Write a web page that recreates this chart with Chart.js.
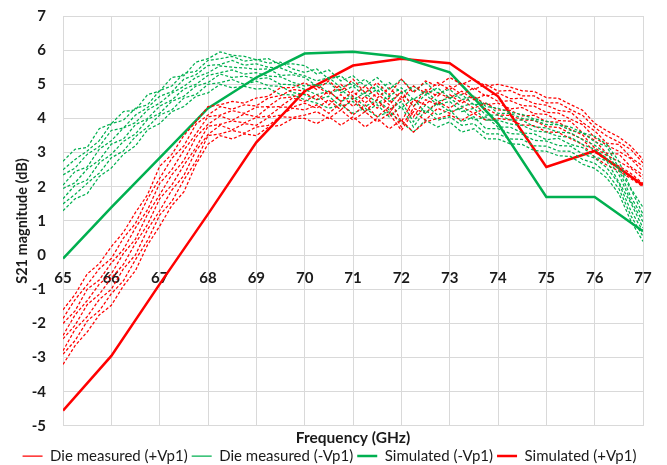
<!DOCTYPE html>
<html>
<head>
<meta charset="utf-8">
<title>S21 magnitude vs frequency</title>
<script src="https://cdn.jsdelivr.net/npm/chart.js@4.4.1/dist/chart.umd.min.js"></script>
<style>
  html, body { margin: 0; padding: 0; background: #fff; }
  #s21-chart { display: block; }
</style>
</head>
<body>
<canvas id="s21-chart" width="667" height="465"></canvas>
<script>
// frequencies (GHz)
const freqSim = [65, 66, 67, 68, 69, 70, 71, 72, 73, 74, 75, 76, 77];
const freqMeas = [65, 65.25, 65.5, 65.75, 66, 66.25, 66.5, 66.75, 67, 67.25, 67.5, 67.75, 68, 68.25, 68.5, 68.75,
  69, 69.25, 69.5, 69.75, 70, 70.25, 70.5, 70.75, 71, 71.25, 71.5, 71.75, 72, 72.25, 72.5, 72.75,
  73, 73.25, 73.5, 73.75, 74, 74.25, 74.5, 74.75, 75, 75.25, 75.5, 75.75, 76, 76.25, 76.5, 76.75, 77];

// simulated S21 (dB)
const simMinusVp1 = [-0.1, 1.4, 2.85, 4.3, 5.2, 5.9, 5.95, 5.8, 5.35, 3.85, 1.7, 1.7, 0.7];
const simPlusVp1 = [-4.55, -2.95, -0.85, 1.2, 3.3, 4.8, 5.55, 5.75, 5.62, 4.65, 2.58, 3.05, 2.05];

// die measured, -Vp1 (dB)
const measMinus1 = [2.75, 3.1, 3.15, 3.7, 3.85, 4.2, 4.25, 4.7, 4.8, 5.2, 5.25, 5.65, 5.75, 5.95, 5.85, 5.82, 5.72, 5.75, 5.58, 5.6, 5.55, 5.3, 5.42, 5.1, 5.25, 4.95, 5.2, 4.85, 5.15, 4.8, 5.05, 4.75, 4.85, 4.55, 4.65, 4.35, 4.3, 4.18, 4.12, 3.98, 3.92, 3.82, 3.75, 3.58, 3.48, 3.25, 2.75, 1.95, 1.4];
const measMinus2 = [2.5, 2.8, 3.05, 3.35, 3.85, 3.95, 4.3, 4.4, 4.82, 4.95, 5.32, 5.38, 5.7, 5.75, 5.82, 5.68, 5.72, 5.62, 5.65, 5.45, 5.35, 5.45, 5.15, 5.25, 4.95, 5.15, 4.8, 5.05, 4.75, 4.95, 4.7, 4.9, 4.6, 4.7, 4.4, 4.45, 4.15, 4.15, 4.0, 3.95, 3.82, 3.82, 3.65, 3.58, 3.32, 3.18, 2.55, 1.92, 1.2];
const measMinus3 = [2.35, 2.55, 2.95, 3.18, 3.65, 3.72, 4.1, 4.32, 4.65, 4.78, 5.15, 5.28, 5.55, 5.58, 5.7, 5.56, 5.6, 5.5, 5.48, 5.34, 5.25, 5.1, 5.2, 4.9, 5.05, 4.75, 4.95, 4.65, 4.9, 4.55, 4.8, 4.5, 4.6, 4.35, 4.45, 4.1, 4.1, 3.96, 3.95, 3.76, 3.72, 3.6, 3.58, 3.38, 3.22, 2.96, 2.5, 1.7, 1.1];
const measMinus4 = [2.05, 2.45, 2.58, 3.1, 3.35, 3.72, 3.88, 4.25, 4.45, 4.74, 4.94, 5.2, 5.34, 5.54, 5.5, 5.48, 5.44, 5.45, 5.26, 5.28, 5.2, 4.95, 5.05, 4.75, 4.95, 4.65, 4.85, 4.5, 4.75, 4.35, 4.7, 4.4, 4.5, 4.2, 4.3, 3.95, 3.95, 3.84, 3.8, 3.64, 3.6, 3.48, 3.45, 3.24, 3.1, 2.84, 2.36, 1.58, 0.98];
const measMinus5 = [1.95, 2.12, 2.52, 2.78, 3.25, 3.4, 3.82, 4.0, 4.36, 4.54, 4.86, 5.0, 5.26, 5.34, 5.42, 5.3, 5.34, 5.24, 5.22, 5.06, 4.95, 5.0, 4.75, 4.85, 4.55, 4.75, 4.45, 4.65, 4.3, 4.6, 4.15, 4.45, 4.2, 4.3, 3.95, 4.05, 3.75, 3.75, 3.58, 3.55, 3.38, 3.42, 3.24, 3.15, 2.88, 2.76, 2.14, 1.52, 0.8];
const measMinus6 = [1.65, 2.05, 2.2, 2.7, 2.95, 3.33, 3.55, 3.97, 4.15, 4.5, 4.65, 4.95, 5.05, 5.3, 5.2, 5.24, 5.16, 5.19, 5.0, 4.99, 4.85, 4.7, 4.8, 4.5, 4.65, 4.35, 4.55, 4.25, 4.5, 3.9, 4.4, 4.1, 4.25, 3.9, 4.05, 3.7, 3.7, 3.56, 3.54, 3.36, 3.34, 3.21, 3.19, 2.96, 2.84, 2.56, 2.1, 1.3, 0.7];
const measMinus7 = [1.5, 1.78, 2.1, 2.4, 2.85, 3.05, 3.47, 3.75, 4.1, 4.25, 4.6, 4.7, 5.0, 5.05, 5.14, 5.0, 5.09, 4.96, 4.94, 4.76, 4.7, 4.55, 4.65, 4.35, 4.5, 4.2, 4.4, 4.05, 4.35, 3.75, 4.25, 3.95, 4.05, 3.8, 3.85, 3.55, 3.55, 3.4, 3.39, 3.2, 3.19, 3.05, 3.04, 2.8, 2.69, 2.4, 1.95, 1.15, 0.55];
const measMinus8 = [1.3, 1.65, 1.8, 2.3, 2.55, 2.95, 3.2, 3.67, 3.85, 4.2, 4.35, 4.65, 4.75, 5.0, 4.9, 4.94, 4.86, 4.89, 4.7, 4.69, 4.55, 4.45, 4.3, 4.4, 4.15, 4.3, 4.05, 4.2, 3.9, 3.6, 3.95, 3.75, 3.9, 3.6, 3.7, 3.4, 3.4, 3.26, 3.24, 3.06, 3.04, 2.91, 2.89, 2.66, 2.54, 2.26, 1.8, 1.0, 0.4];

// die measured, +Vp1 (dB)
const measPlus1 = [-1.6, -1.15, -0.55, -0.25, 0.25, 0.67, 1.25, 1.77, 2.6, 2.95, 3.5, 3.9, 4.35, 4.4, 4.5, 4.45, 4.6, 4.65, 4.9, 4.9, 5.05, 4.85, 5.1, 4.8, 5.15, 4.75, 5.05, 4.7, 5.15, 4.75, 5.1, 4.95, 5.2, 5.0, 5.15, 4.95, 5.0, 4.92, 4.81, 4.79, 4.61, 4.59, 4.41, 4.24, 3.86, 3.64, 3.46, 3.19, 2.8];
const measPlus2 = [-1.85, -1.3, -0.87, -0.4, -0.1, 0.5, 0.93, 1.65, 2.25, 2.83, 3.2, 3.83, 4.1, 4.35, 4.27, 4.4, 4.37, 4.6, 4.67, 4.85, 4.8, 4.95, 4.7, 5.0, 4.65, 4.95, 4.6, 4.9, 4.55, 4.95, 4.75, 5.05, 4.85, 5.05, 4.85, 5.0, 4.8, 4.82, 4.66, 4.66, 4.46, 4.46, 4.26, 4.09, 3.74, 3.49, 3.31, 3.09, 2.7];
const measPlus3 = [-2.0, -1.63, -1.0, -0.73, -0.23, 0.17, 0.8, 1.33, 2.1, 2.5, 3.07, 3.55, 4.05, 4.1, 4.23, 4.15, 4.33, 4.35, 4.6, 4.63, 4.75, 4.55, 4.8, 4.5, 4.8, 4.45, 4.75, 4.4, 4.8, 4.35, 4.85, 4.65, 4.95, 4.7, 4.9, 4.65, 4.75, 4.58, 4.59, 4.44, 4.39, 4.24, 4.19, 3.88, 3.64, 3.28, 3.24, 2.86, 2.6];
const measPlus4 = [-2.35, -1.75, -1.33, -0.85, -0.55, 0.05, 0.47, 1.2, 1.77, 2.35, 2.77, 3.45, 3.83, 4.07, 3.95, 4.13, 4.05, 4.33, 4.35, 4.6, 4.5, 4.7, 4.4, 4.7, 4.35, 4.65, 4.3, 4.6, 3.9, 4.55, 4.4, 4.75, 4.6, 4.8, 4.55, 4.7, 4.5, 4.52, 4.38, 4.36, 4.18, 4.16, 3.98, 3.82, 3.44, 3.22, 3.04, 2.82, 2.45];
const measPlus5 = [-2.45, -2.05, -1.45, -1.15, -0.67, -0.27, 0.35, 0.9, 1.65, 2.05, 2.63, 3.15, 3.77, 3.83, 3.93, 3.87, 4.03, 4.07, 4.33, 4.33, 4.45, 4.3, 4.55, 4.25, 4.6, 4.2, 4.55, 4.15, 4.65, 4.05, 4.55, 4.4, 4.7, 4.45, 4.65, 4.4, 4.45, 4.28, 4.32, 4.14, 4.12, 3.94, 3.92, 3.58, 3.36, 2.98, 2.96, 2.58, 2.35];
const measPlus6 = [-2.8, -2.17, -1.8, -1.3, -1.0, -0.4, 0.01, 0.75, 1.3, 1.9, 2.33, 3.05, 3.53, 3.8, 3.67, 3.85, 3.8, 4.03, 4.1, 4.3, 4.25, 4.4, 4.15, 4.45, 4.1, 4.4, 4.05, 4.35, 3.75, 4.3, 4.15, 4.5, 4.3, 4.55, 4.3, 4.45, 4.25, 4.24, 4.08, 4.09, 3.91, 3.89, 3.68, 3.52, 3.14, 2.92, 2.74, 2.54, 2.25];
const measPlus7 = [-2.9, -2.5, -1.93, -1.63, -1.13, -0.75, -0.13, 0.43, 1.17, 1.57, 2.2, 2.75, 3.5, 3.55, 3.65, 3.57, 3.75, 3.8, 4.05, 4.03, 4.1, 4.2, 4.0, 4.25, 3.95, 4.2, 3.9, 4.15, 3.65, 4.2, 3.95, 4.3, 4.15, 4.35, 4.15, 4.3, 4.1, 4.09, 3.96, 3.94, 3.76, 3.74, 3.56, 3.39, 3.01, 2.79, 2.61, 2.39, 2.1];
const measPlus8 = [-3.2, -2.65, -2.25, -1.75, -1.47, -0.9, -0.45, 0.3, 0.85, 1.45, 1.85, 2.65, 3.25, 3.5, 3.4, 3.55, 3.5, 3.75, 3.8, 4.0, 4.0, 3.85, 4.05, 3.8, 4.05, 3.75, 4.0, 3.7, 3.95, 3.6, 3.9, 4.0, 4.1, 3.95, 4.15, 3.95, 4.0, 3.96, 3.81, 3.79, 3.61, 3.59, 3.41, 3.24, 2.86, 2.64, 2.46, 2.24, 2.0];

const measMinusCurves = [measMinus1, measMinus2, measMinus3, measMinus4, measMinus5, measMinus6, measMinus7, measMinus8];
const measPlusCurves = [measPlus1, measPlus2, measPlus3, measPlus4, measPlus5, measPlus6, measPlus7, measPlus8];

const RED = 'rgb(255, 0, 0)';
const GREEN = 'rgb(0, 176, 80)';
const FONT = 'Lato, "Open Sans", sans-serif';

function toPoints(xs, ys) {
  return ys.map((y, i) => ({ x: xs[i], y: y }));
}

function measuredSet(label, color, ys, inLegend, rank) {
  return {
    label: label,
    data: toPoints(freqMeas, ys),
    borderColor: color,
    backgroundColor: color,
    borderWidth: 1.25,
    borderDash: [3, 2],
    pointRadius: 0,
    pointStyle: 'line',
    tension: 0,
    showInLegend: inLegend,
    legendRank: rank
  };
}

const datasets = [];
for (let i = 0; i < 8; i++) {
  datasets.push(measuredSet('Die measured (+Vp1)', RED, measPlusCurves[i], i === 0, 0));
  datasets.push(measuredSet('Die measured (-Vp1)', GREEN, measMinusCurves[i], i === 0, 1));
}
datasets.push({
  label: 'Simulated (-Vp1)',
  data: toPoints(freqSim, simMinusVp1),
  borderColor: GREEN,
  backgroundColor: GREEN,
  borderWidth: 2.5,
  pointRadius: 0,
  pointStyle: 'line',
  showInLegend: true,
  legendRank: 2
});
datasets.push({
  label: 'Simulated (+Vp1)',
  data: toPoints(freqSim, simPlusVp1),
  borderColor: RED,
  backgroundColor: RED,
  borderWidth: 2.5,
  pointRadius: 0,
  pointStyle: 'line',
  showInLegend: true,
  legendRank: 3
});

const gridColor = '#d9d9d9';
const ctx = document.querySelector('#s21-chart');
const s21Chart = new Chart(ctx, {
  type: 'line',
  data: { datasets: datasets },
  options: {
    responsive: false,
    animation: false,
    layout: { padding: { top: 16, right: 24, left: 16, bottom: -8.5 } },
    scales: {
      x: {
        type: 'linear',
        position: { y: 0 },
        min: 65,
        max: 77,
        grid: { color: gridColor, drawTicks: false },
        border: { color: gridColor },
        ticks: {
          stepSize: 1,
          padding: 14,
          color: '#1a1a1a',
          font: { family: FONT, size: 15, weight: 'bold' }
        },
        afterFit: (scale) => { scale.height = 0; }
      },
      y: {
        min: -5,
        max: 7,
        grid: { color: gridColor, drawTicks: false },
        border: { color: gridColor },
        ticks: {
          stepSize: 1,
          padding: 17,
          color: '#1a1a1a',
          font: { family: FONT, size: 15, weight: 'bold' }
        },
        title: {
          display: true,
          text: 'S21 magnitude (dB)',
          color: '#1a1a1a',
          padding: { top: -2, bottom: 0 },
          font: { family: FONT, size: 14.5, weight: 'bold' }
        },
        afterFit: (scale) => {
          scale.width = 47;
          scale.paddingTop = 0;
          scale.paddingBottom = 0;
        }
      }
    },
    plugins: {
      title: {
        display: true,
        position: 'bottom',
        fullSize: false,
        weight: 500,
        text: 'Frequency (GHz)',
        color: '#1a1a1a',
        padding: { top: 3.5, bottom: -2 },
        font: { family: FONT, size: 15.5, weight: 'bold', lineHeight: 1.1 }
      },
      legend: {
        position: 'bottom',
        labels: {
          usePointStyle: true,
          pointStyleWidth: 20,
          padding: 4,
          color: '#1a1a1a',
          font: { family: FONT, size: 15, lineHeight: 1 },
          filter: (item, data) => data.datasets[item.datasetIndex].showInLegend,
          sort: (a, b, data) => data.datasets[a.datasetIndex].legendRank - data.datasets[b.datasetIndex].legendRank
        }
      },
      tooltip: { enabled: false }
    }
  }
});
</script>
</body>
</html>
